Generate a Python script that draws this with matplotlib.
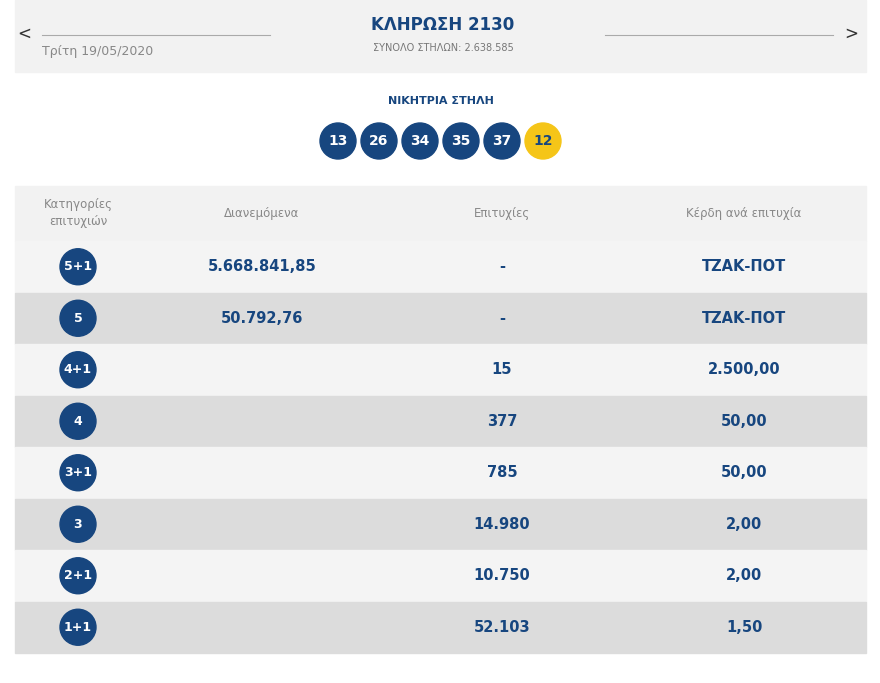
import matplotlib
matplotlib.use("Agg")
import matplotlib.pyplot as plt
from matplotlib.patches import Circle, Rectangle

draw_title = "ΚΛΗΡΩΣΗ 2130"
total_cols = "ΣΥΝΟΛΟ ΣΤΗΛΩΝ: 2.638.585"
draw_date = "Τρίτη 19/05/2020"
winning_label = "ΝΙΚΗΤΡΙΑ ΣΤΗΛΗ"
winning_numbers = ["13", "26", "34", "35", "37"]
bonus_number = "12"
headers = ["Κατηγορίες\nεπιτυχιών", "Διανεμόμενα", "Επιτυχίες", "Κέρδη ανά επιτυχία"]
categories = ["5+1", "5", "4+1", "4", "3+1", "3", "2+1", "1+1"]
distributed = ["5.668.841,85", "50.792,76", "", "", "", "", "", ""]
winners = ["-", "-", "15", "377", "785", "14.980", "10.750", "52.103"]
prize = ["ΤΖΑΚ-ΠΟΤ", "ΤΖΑΚ-ΠΟΤ", "2.500,00", "50,00", "50,00", "2,00", "2,00", "1,50"]

NAVY = "#17467f"
YEL = "#f5c518"
GRAY = "#888888"
FONT = "DejaVu Sans"

fig = plt.figure(figsize=(8.8, 6.83), dpi=100)
ax = fig.add_axes([0, 0, 1, 1])
ax.set_xlim(0, 880); ax.set_ylim(683, 0); ax.axis("off")

# header box
ax.add_patch(Rectangle((15, 0), 851, 72, color="#f2f2f2", zorder=0))
ax.text(443, 25, draw_title, ha="center", va="center", color=NAVY, fontsize=12, fontweight="bold", family=FONT)
ax.text(443, 48, total_cols, ha="center", va="center", color="#777777", fontsize=7, family=FONT)
ax.text(42, 51, draw_date, ha="left", va="center", color=GRAY, fontsize=9, family=FONT)
ax.plot([42, 270], [35, 35], color="#aaaaaa", lw=0.8)
ax.plot([605, 833], [35, 35], color="#aaaaaa", lw=0.8)
ax.text(24, 34, "<", ha="center", va="center", color="#333333", fontsize=12, family=FONT)
ax.text(851, 34, ">", ha="center", va="center", color="#333333", fontsize=12, family=FONT)

ax.text(441, 101, winning_label, ha="center", va="center", color=NAVY, fontsize=8, fontweight="bold", family=FONT)
balls = winning_numbers + [bonus_number]
for i, b in enumerate(balls):
    x = 338 + i * 41
    col = YEL if i == len(balls) - 1 else NAVY
    ax.add_patch(Circle((x, 141), 18, color=col, zorder=2))
    ax.text(x, 141, b, ha="center", va="center", color=NAVY if col == YEL else "white",
            fontsize=10, fontweight="bold", family=FONT, zorder=3)

# table
colx = [78, 262, 502, 744]
ax.add_patch(Rectangle((15, 186), 851, 55, color="#f2f2f2", zorder=0))
for x, h in zip(colx, headers):
    ax.text(x, 213, h, ha="center", va="center", color=GRAY, fontsize=8.5, family=FONT, linespacing=1.4)

rh = 51.5
for i, c in enumerate(categories):
    y0 = 241 + i * rh
    yc = y0 + rh / 2
    ax.add_patch(Rectangle((15, y0), 851, rh, color="#f4f4f4" if i % 2 == 0 else "#dcdcdc", zorder=0))
    ax.add_patch(Circle((colx[0], yc), 18, color=NAVY, zorder=2))
    ax.text(colx[0], yc, c, ha="center", va="center", color="white", fontsize=9, fontweight="bold", family=FONT, zorder=3)
    for x, v in zip(colx[1:], [distributed[i], winners[i], prize[i]]):
        ax.text(x, yc, v, ha="center", va="center", color=NAVY, fontsize=10.5, fontweight="bold", family=FONT)

fig.savefig("out.png", dpi=100, facecolor="white")
